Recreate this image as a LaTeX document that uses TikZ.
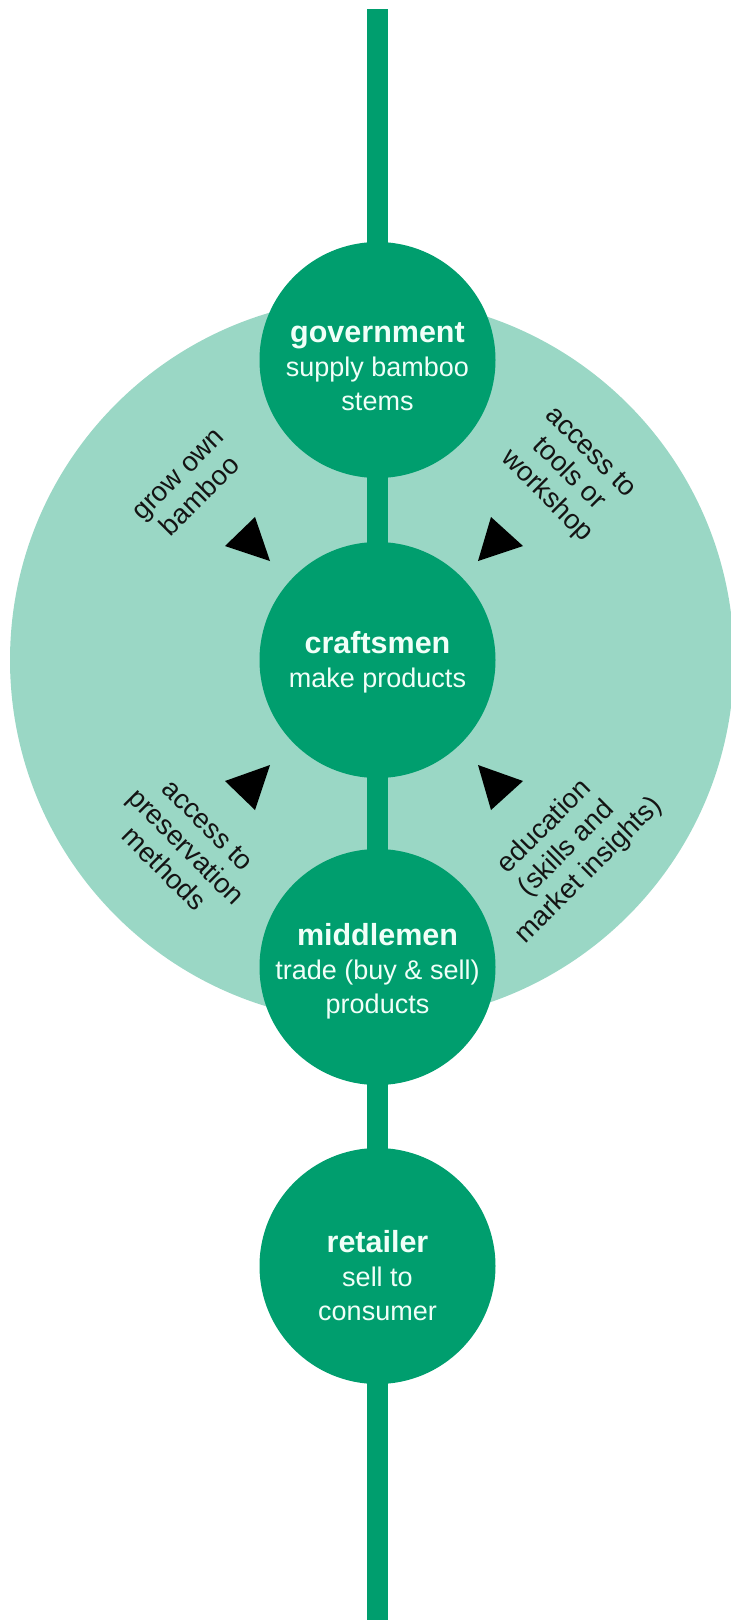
\documentclass[tikz,border=0pt]{standalone}
\usepackage{fontspec}
\setmainfont{Liberation Sans}
\definecolor{dkgreen}{HTML}{009E6E}
\definecolor{ltgreen}{HTML}{9AD7C5}
\definecolor{paletext}{HTML}{F0FFF8}
\definecolor{lbltext}{HTML}{141414}
\begin{document}
\begin{tikzpicture}[x=1pt,y=-1pt,
  actor/.style={circle, fill=dkgreen, minimum size=236pt, inner sep=0pt},
  actortext/.style={align=center, text=paletext, inner sep=0pt, font=\fontsize{27}{34}\selectfont},
  stem/.style={dkgreen, line width=21pt},
  lbl/.style={align=center, text=lbltext, inner sep=0pt, font=\fontsize{27.5}{31}\selectfont},
  tri/.style={fill=black}]
\useasboundingbox (0,0) rectangle (731,1620);
\begin{scope}
  \clip (0,0) rectangle (731,1620);
  \fill[ltgreen] (372,660) circle (362pt);
\end{scope}
% nodes
\coordinate (top) at (377.5,9);
\coordinate (bot) at (377.5,1620);
\node[actor] (gov) at (377.5,360) {};
\node[actor] (craft) at (377.5,660) {};
\node[actor] (mid) at (377.5,967) {};
\node[actor] (ret) at (377.5,1266) {};
% connectors
\draw[stem, shorten >=-2pt] (top) -- (gov);
\draw[stem, shorten <=-2pt, shorten >=-2pt] (gov) -- (craft);
\draw[stem, shorten <=-2pt, shorten >=-2pt] (craft) -- (mid);
\draw[stem, shorten <=-2pt, shorten >=-2pt] (mid) -- (ret);
\draw[stem, shorten <=-2pt] (ret) -- (bot);
% circle texts
\node[actortext] (govtxt) at (377.5,367) {{\fontsize{30.5}{34}\selectfont\bfseries government}\\supply bamboo\\stems};
\node[actortext] (crafttxt) at (377.5,662) {{\fontsize{30.5}{34}\selectfont\bfseries craftsmen}\\make products};
\node[actortext] (midtxt) at (377.5,971) {{\fontsize{30.5}{34}\selectfont\bfseries middlemen}\\trade (buy \& sell)\\products};
\node[actortext] (rettxt) at (377.5,1276) {{\fontsize{30.5}{34}\selectfont\bfseries retailer}\\sell to\\consumer};
% triangles
\fill[tri] (255,517) -- (225,546) -- (270,561) -- cycle;
\fill[tri] (491,517) -- (523,546) -- (478,561) -- cycle;
\fill[tri] (255,810) -- (225,781) -- (270,765) -- cycle;
\fill[tri] (491,810) -- (523,781) -- (478,765) -- cycle;
% labels
\node[lbl, rotate=45] (l1) at (190,486) {grow own\\bamboo};
\node[lbl, rotate=-45] (l2) at (568,475) {access to\\tools or\\workshop};
\node[lbl, rotate=-45] (l3) at (186,847) {access to\\preservation\\methods};
\node[lbl, rotate=45] (l4) at (567,849) {education\\(skills and\\market insights)};
\end{tikzpicture}
\end{document}
